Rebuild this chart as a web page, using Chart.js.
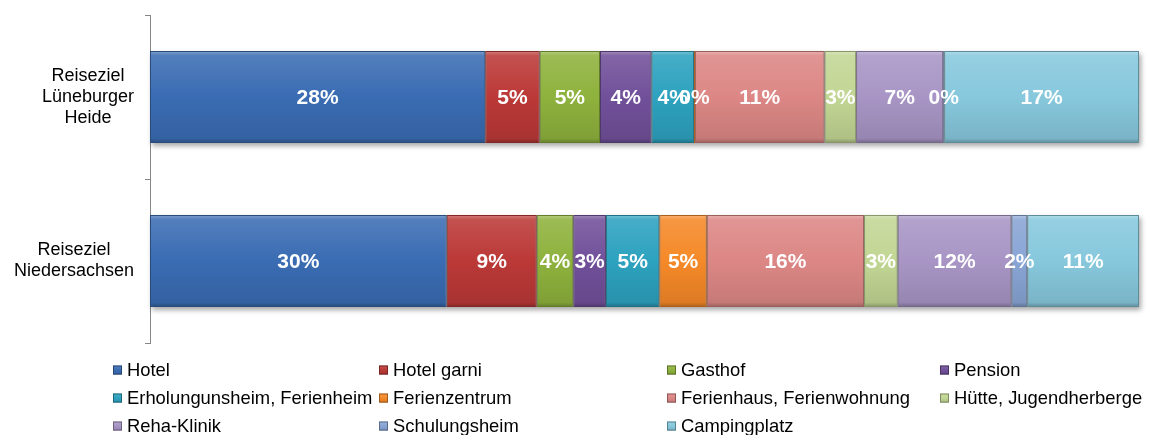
<!DOCTYPE html>
<html>
<head>
<meta charset="utf-8">
<script src="https://cdn.jsdelivr.net/npm/chart.js@4/dist/chart.umd.min.js"></script>
<style>
  html, body { margin: 0; padding: 0; background: #fff; }
  #wrap { width: 1150px; height: 435px; position: relative; }
</style>
</head>
<body>
<div id="wrap"><canvas id="chart"></canvas></div>
<script>
const categories = [['Reiseziel', 'Lüneburger', 'Heide'], ['Reiseziel', 'Niedersachsen']];
const types = [
  'Hotel',
  'Hotel garni',
  'Gasthof',
  'Pension',
  'Erholungunsheim, Ferienheim',
  'Ferienzentrum',
  'Ferienhaus, Ferienwohnung',
  'Hütte, Jugendherberge',
  'Reha-Klinik',
  'Schulungsheim',
  'Campingplatz',
];
// share of the bar length
const heideShare = [33.9, 5.5, 6.1, 5.2, 4.3, 0.1, 13.1, 3.2, 8.8, 0.1, 19.7];
const niedersachsenShare = [30.0, 9.1, 3.7, 3.3, 5.4, 4.8, 15.9, 3.4, 11.5, 1.6, 11.3];
// percentages printed on the bars
const heidePct = [28, 5, 5, 4, 4, 0, 11, 3, 7, 0, 17];
const niedersachsenPct = [30, 9, 4, 3, 5, 5, 16, 3, 12, 2, 11];
const colors = ['#3a6cb3', '#bb3937', '#8eb23d', '#71509a', '#2da2bf', '#f58928',
  '#dc8785', '#c2d694', '#a895c5', '#89a5d5', '#87c8dd'];

const FONT = "Arial, 'Liberation Sans', sans-serif";
const BAR_PCT = 0.56;

function shade(hex, amt) {
  // amt > 0 -> towards white, amt < 0 -> towards black
  const n = parseInt(hex.slice(1), 16);
  let r = n >> 16, g = (n >> 8) & 255, b = n & 255;
  const t = amt > 0 ? 255 : 0, p = Math.abs(amt);
  r = Math.round(r + (t - r) * p);
  g = Math.round(g + (t - g) * p);
  b = Math.round(b + (t - b) * p);
  return `rgb(${r},${g},${b})`;
}

function bevel(c, base, y0, y1) {
  const g = c.createLinearGradient(0, y0, 0, y1);
  g.addColorStop(0, shade(base, 0.35));
  g.addColorStop(0.05, shade(base, 0.12));
  g.addColorStop(0.5, base);
  g.addColorStop(0.95, shade(base, -0.1));
  g.addColorStop(1, shade(base, -0.3));
  return g;
}

const pctByRow = [heidePct, niedersachsenPct];

const datasets = types.map((t, i) => ({
  label: t,
  data: [heideShare[i], niedersachsenShare[i]],
  backgroundColor: (ctx) => {
    const chart = ctx.chart;
    if (!chart.chartArea || ctx.dataIndex === undefined) return colors[i];
    const y = chart.scales.y;
    const c = y.getPixelForValue(ctx.dataIndex);
    const half = (y.getPixelForValue(1) - y.getPixelForValue(0)) * BAR_PCT / 2;
    return bevel(chart.ctx, colors[i], c - half, c + half);
  },
  borderColor: shade(colors[i], -0.3),
  borderWidth: 1,
  borderSkipped: false,
  barPercentage: BAR_PCT,
  categoryPercentage: 1,
}));

const shadowPlugin = {
  id: 'barShadow',
  beforeDatasetsDraw(chart) {
    const c = chart.ctx;
    const first = chart.getDatasetMeta(0).data;
    const last = chart.getDatasetMeta(types.length - 1).data;
    c.save();
    c.shadowColor = 'rgba(0,0,0,0.35)';
    c.shadowBlur = 5;
    c.shadowOffsetX = 2;
    c.shadowOffsetY = 3;
    c.fillStyle = '#999';
    first.forEach((el, k) => {
      const h = el.height;
      c.fillRect(el.base, el.y - h / 2, last[k].x - el.base, h);
    });
    c.restore();
  }
};

const valueLabels = {
  id: 'valueLabels',
  afterDatasetsDraw(chart) {
    const c = chart.ctx;
    c.save();
    c.font = `bold 21px ${FONT}`;
    c.fillStyle = '#fff';
    c.textAlign = 'center';
    c.textBaseline = 'middle';
    chart.data.datasets.forEach((ds, i) => {
      chart.getDatasetMeta(i).data.forEach((el, k) => {
        c.fillText(pctByRow[k][i] + '%', (el.x + el.base) / 2, el.y + 1);
      });
    });
    c.restore();
  }
};

const categoryLabels = {
  id: 'categoryLabels',
  afterDraw(chart) {
    const c = chart.ctx;
    const y = chart.scales.y;
    c.save();
    c.font = `18px ${FONT}`;
    c.fillStyle = '#000';
    c.textAlign = 'center';
    c.textBaseline = 'middle';
    categories.forEach((lines, k) => {
      const widest = Math.max(...lines.map(l => c.measureText(l).width));
      const cx = y.right - 16 - widest / 2;
      const cy = y.getPixelForValue(k);
      const lh = 21;
      lines.forEach((l, j) => {
        c.fillText(l, cx, cy + (j - (lines.length - 1) / 2) * lh);
      });
    });
    c.restore();
  }
};

const gridLegend = {
  id: 'gridLegend',
  afterDraw(chart) {
    const c = chart.ctx;
    const colX = [113, 379, 667, 940];
    const rowY = [370, 398, 426];
    c.save();
    c.font = `18.4px ${FONT}`;
    c.textBaseline = 'middle';
    c.textAlign = 'left';
    types.forEach((t, i) => {
      const x = colX[i % 4], y = rowY[Math.floor(i / 4)];
      c.fillStyle = bevel(c, colors[i], y - 4.5, y + 4.5);
      c.fillRect(x, y - 4.5, 9, 9);
      c.strokeStyle = shade(colors[i], -0.35);
      c.lineWidth = 1;
      c.strokeRect(x + 0.5, y - 4, 8, 8);
      c.fillStyle = '#000';
      c.fillText(t, x + 14, y + 1);
    });
    c.restore();
  }
};

new Chart(document.getElementById('chart'), {
  type: 'bar',
  data: { labels: categories, datasets },
  options: {
    indexAxis: 'y',
    responsive: true,
    maintainAspectRatio: false,
    animation: false,
    layout: { padding: { top: 15, right: 11, bottom: 92, left: 0 } },
    scales: {
      x: { stacked: true, min: 0, max: 100, display: false },
      y: {
        stacked: true,
        grid: { drawOnChartArea: false, drawTicks: true, tickLength: 5, color: '#868686', offset: true },
        border: { color: '#868686', width: 1 },
        ticks: { display: false },
        afterFit: (s) => { s.width = 150; },
      }
    },
    plugins: {
      legend: { display: false },
      tooltip: { enabled: false },
    }
  },
  plugins: [shadowPlugin, valueLabels, categoryLabels, gridLegend]
});
</script>
</body>
</html>
